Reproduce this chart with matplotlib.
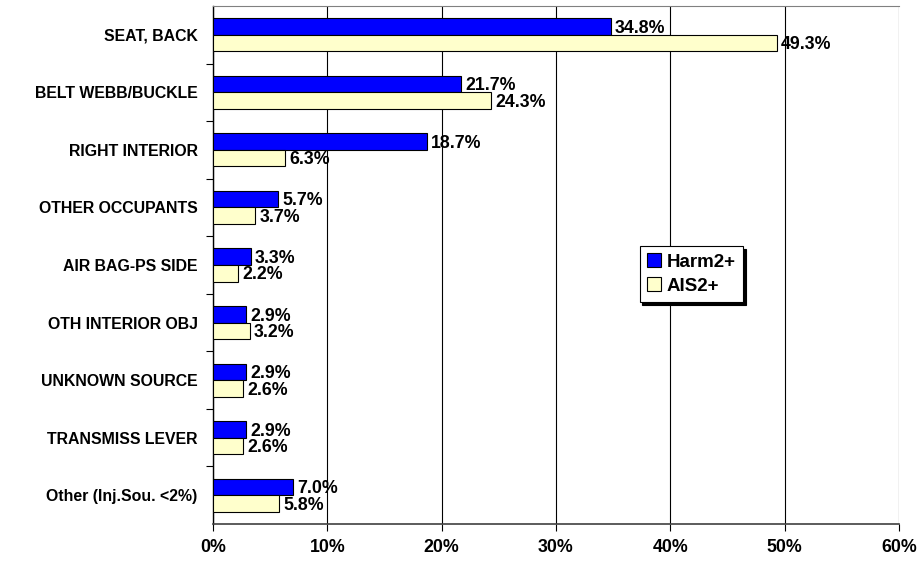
import matplotlib
matplotlib.use("Agg")
import matplotlib.pyplot as plt
import numpy as np
from matplotlib.ticker import FuncFormatter, FixedLocator

plt.rcParams['font.family'] = ['Liberation Sans', 'DejaVu Sans']
plt.rcParams['font.weight'] = 'bold'

# data (top to bottom)
categories = ['SEAT, BACK', 'BELT WEBB/BUCKLE', 'RIGHT INTERIOR', 'OTHER OCCUPANTS',
              'AIR BAG-PS SIDE', 'OTH INTERIOR OBJ', 'UNKNOWN SOURCE',
              'TRANSMISS LEVER', 'Other (Inj.Sou. <2%)']
harm2 = [34.8, 21.7, 18.7, 5.7, 3.3, 2.9, 2.9, 2.9, 7.0]
ais2 = [49.3, 24.3, 6.3, 3.7, 2.2, 3.2, 2.6, 2.6, 5.8]

BLUE = '#0000ff'
CREAM = '#ffffcc'
FS = 12.8

fig = plt.figure(figsize=(9.18, 5.63), dpi=100)
ax = fig.add_axes([213 / 918, 39 / 563, 686 / 918, 518 / 563])

n = len(categories)
y = np.arange(n)
h = 0.287

ax.barh(y - h / 2, harm2, height=h, color=BLUE, edgecolor='black', linewidth=0.8,
        label='Harm2+', zorder=3)
ax.barh(y + h / 2, ais2, height=h, color=CREAM, edgecolor='black', linewidth=0.8,
        label='AIS2+', zorder=3)

for yy, v in zip(y - h / 2, harm2):
    ax.annotate(f'{v:.1f}%', (v, yy + 0.03), xytext=(3, 0), textcoords='offset points',
                va='center', ha='left', fontsize=FS, fontweight='bold', zorder=4)
for yy, v in zip(y + h / 2, ais2):
    ax.annotate(f'{v:.1f}%', (v, yy + 0.03), xytext=(3, 0), textcoords='offset points',
                va='center', ha='left', fontsize=FS, fontweight='bold', zorder=4)

ax.set_ylim(n - 0.5, -0.5)
ax.set_xlim(0, 60)
ax.set_xticks(np.arange(0, 61, 10))
ax.xaxis.set_major_formatter(FuncFormatter(lambda v, p: f'{v:.0f}%'))
ax.grid(True, axis='x', color='black', linewidth=0.8, zorder=0)

# category labels centered, ticks between categories
ax.set_yticks(y)
ax.set_yticklabels(categories, fontsize=11.4, fontweight='bold')
ax.tick_params(axis='y', length=0, pad=11)
ax.yaxis.set_minor_locator(FixedLocator(np.arange(0.5, n - 0.5, 1)))
ax.tick_params(axis='y', which='minor', length=5, direction='out', width=0.8)
ax.tick_params(axis='x', length=5, direction='out', width=0.8, pad=6, labelsize=FS)
for lab in ax.get_xticklabels():
    lab.set_fontweight('bold')

ax.spines['top'].set_color('#808080')
ax.spines['right'].set_visible(False)
ax.spines['left'].set_linewidth(1.0)
ax.spines['bottom'].set_linewidth(1.2)
ax.spines['bottom'].set_color('#404040')

leg = ax.legend(loc='upper left', bbox_to_anchor=(0.622, 0.537), frameon=True,
                fancybox=False, shadow={'color': 'black', 'alpha': 1.0}, edgecolor='black',
                framealpha=1, handlelength=0.75, handleheight=0.75,
                handletextpad=0.3, borderpad=0.4, labelspacing=0.35,
                borderaxespad=0, prop={'weight': 'bold', 'size': 13.5})
leg.get_frame().set_linewidth(0.8)

plt.savefig('out.png', dpi=100)
